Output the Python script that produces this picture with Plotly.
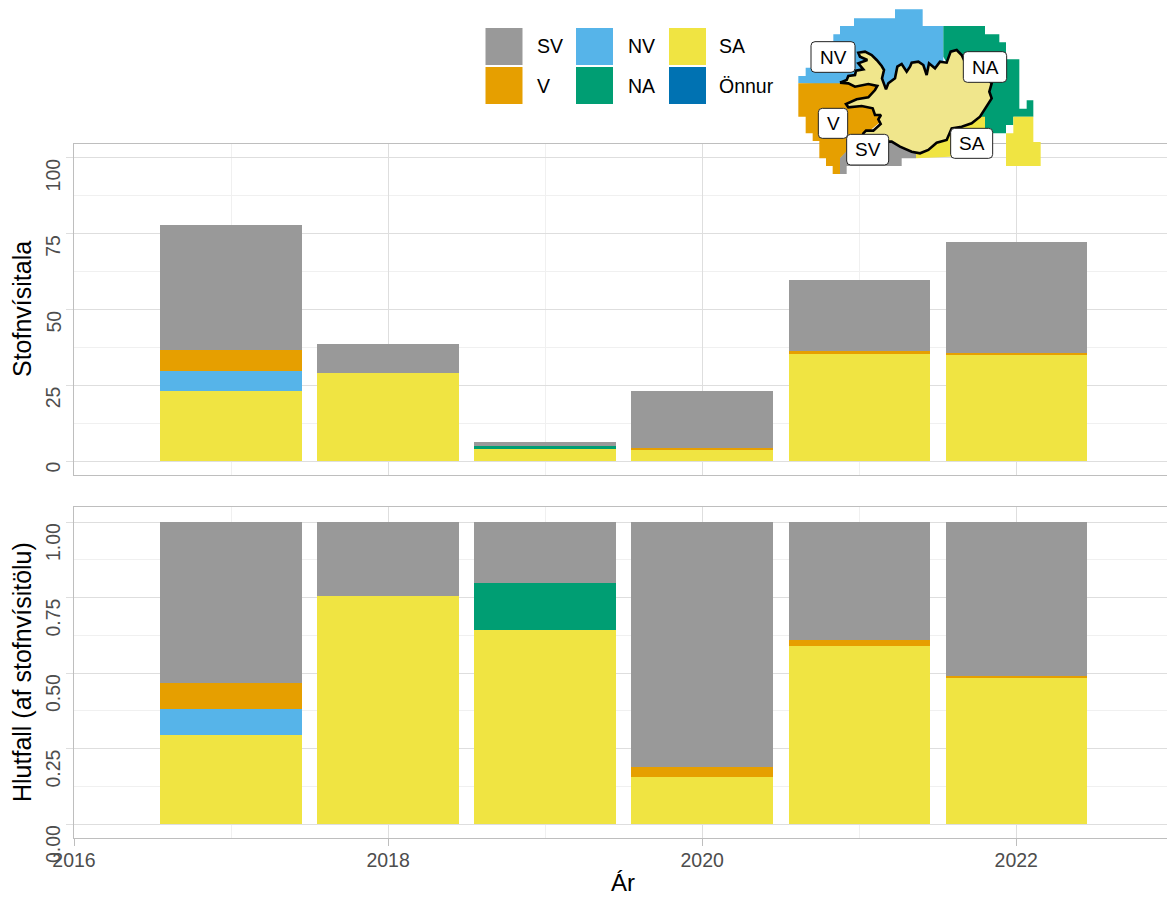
import plotly.graph_objects as go

# ---------- data ----------
years = [2017, 2018, 2019, 2020, 2021, 2022]
index_SA = [23.1, 29.0, 3.9, 3.6, 35.2, 35.3]
index_NA = [0, 0, 1.0, 0, 0, 0]
index_NV = [6.6, 0, 0, 0, 0, 0]
index_V = [6.9, 0, 0, 0.7, 1.2, 0.3]
index_SV = [41.3, 9.6, 1.3, 18.8, 23.3, 36.8]

share_SA = [0.295, 0.755, 0.642, 0.156, 0.589, 0.487]
share_NA = [0, 0, 0.158, 0, 0, 0]
share_NV = [0.086, 0, 0, 0, 0, 0]
share_V = [0.086, 0, 0, 0.033, 0.020, 0.004]
share_SV = [0.533, 0.245, 0.200, 0.811, 0.391, 0.509]

colors = {"SV": "#999999", "V": "#E69F00", "NV": "#56B4E9",
          "NA": "#009E73", "SA": "#F0E442", "Önnur": "#0072B2"}
legend_rows = [["SV", "V"], ["NV", "NA"], ["SA", "Önnur"]]

x_ticks = [2016, 2018, 2020, 2022]
y1_ticks = [0, 25, 50, 75, 100]
y1_labels = ["0", "25", "50", "75", "100"]
y2_ticks = [0, 0.25, 0.5, 0.75, 1.0]
y2_labels = ["0.00", "0.25", "0.50", "0.75", "1.00"]

# map regions, in map units
nv_x = [55, 55, 77, 77, 98, 98, 160, 160, 180, 180, 222, 222, 345, 345, 428, 428, 490, 490, 300, 55]
nv_y = [250, 228, 228, 203, 203, 150, 150, 103, 103, 78, 78, 55, 55, 28, 28, 78, 78, 220, 260, 250]
na_x = [490, 615, 615, 658, 658, 678, 678, 718, 718, 740, 740, 760, 760, 700, 700, 678, 678, 600, 560, 490]
na_y = [78, 78, 103, 103, 127, 127, 178, 178, 326, 326, 301, 301, 350, 350, 375, 375, 400, 400, 300, 170]
v_x = [55, 55, 77, 77, 98, 98, 118, 118, 138, 138, 158, 158, 180, 180, 260, 320, 300, 55]
v_y = [250, 350, 350, 400, 400, 423, 423, 475, 475, 498, 498, 522, 522, 475, 400, 350, 250, 250]
sv_x = [180, 250, 330, 408, 408, 365, 365, 200, 200, 180, 180]
sv_y = [475, 400, 420, 460, 475, 475, 498, 498, 522, 522, 475]
sa_x = [615, 615, 510, 408, 408, 560, 615]
sa_y = [350, 400, 470, 475, 440, 350, 350]
sa2_x = [678, 700, 700, 760, 760, 782, 782, 678, 678]
sa2_y = [400, 400, 350, 350, 426, 426, 498, 498, 400]
iceland_x = [180, 200, 205, 225, 228, 250, 235, 262, 240, 235, 255, 275, 290, 305, 312, 306, 318, 325, 345,
             352, 365, 380, 390, 395, 415, 430, 440, 447, 465, 480, 500, 512, 530, 545, 552, 600, 635, 628,
             635, 620, 600, 575, 545, 515, 500, 470, 445, 420, 395, 360, 335, 325, 280, 245, 250, 258, 280, 302,
             295, 303, 285, 278, 245, 205, 198, 230, 265, 285, 292, 265, 225, 205, 180]
iceland_y = [248, 240, 228, 225, 212, 208, 190, 180, 170, 158, 155, 165, 180, 198, 210, 235, 268, 250, 235,
             200, 192, 215, 200, 188, 185, 195, 225, 190, 205, 185, 188, 155, 150, 165, 180, 215, 250, 275,
             295, 320, 350, 370, 380, 385, 420, 428, 450, 460, 455, 440, 425, 425, 430, 415, 400, 392, 392, 372,
             358, 345, 345, 325, 318, 322, 312, 298, 292, 270, 258, 252, 260, 250, 248]
map_labels = ["NV", "V", "SV", "SA", "NA"]
map_label_x = [159, 159, 263, 575, 615]
map_label_y = [171, 370, 449, 430, 201]
map_label_hw = [66, 44, 63, 63, 65]
map_label_hh = [46, 45, 46, 45, 46]

# ---------- layout ----------
W, H = 1167, 897
GREY = "#4d4d4d"
FONT = "Liberation Sans"
fig = go.Figure()

for name, vals1, vals2 in [("SA", index_SA, share_SA), ("NA", index_NA, share_NA),
                           ("NV", index_NV, share_NV), ("V", index_V, share_V),
                           ("SV", index_SV, share_SV)]:
    fig.add_bar(x=years, y=vals1, name=name, marker=dict(color=colors[name], line_width=0),
                width=0.9, xaxis="x", yaxis="y", showlegend=False)
    fig.add_bar(x=years, y=vals2, name=name, marker=dict(color=colors[name], line_width=0),
                width=0.9, xaxis="x2", yaxis="y2", showlegend=False)

for name, xs, ys in [("NV", nv_x, nv_y), ("NA", na_x, na_y), ("V", v_x, v_y),
                     ("SV", sv_x, sv_y), ("SA", sa_x, sa_y), ("SA", sa2_x, sa2_y)]:
    fig.add_scatter(x=xs, y=ys, mode="lines", fill="toself", fillcolor=colors[name],
                    line=dict(width=0, color=colors[name]), xaxis="x3", yaxis="y3",
                    hoverinfo="skip", showlegend=False)
fig.add_scatter(x=iceland_x, y=iceland_y, mode="lines", fill="toself", fillcolor="#F0E68C",
                line=dict(width=2.6, color="black"), xaxis="x3", yaxis="y3",
                hoverinfo="skip", showlegend=False)


def rounded(cx, cy, hw, hh, r=12):
    l, rt, t, b = cx - hw, cx + hw, cy - hh, cy + hh
    return (f"M{l + r},{t} L{rt - r},{t} Q{rt},{t} {rt},{t + r} L{rt},{b - r} Q{rt},{b} {rt - r},{b} "
            f"L{l + r},{b} Q{l},{b} {l},{b - r} L{l},{t + r} Q{l},{t} {l + r},{t} Z")


shapes = []
annotations = []
for t, cx, cy, hw, hh in zip(map_labels, map_label_x, map_label_y, map_label_hw, map_label_hh):
    shapes.append(dict(type="path", path=rounded(cx, cy, hw, hh), xref="x3", yref="y3",
                       fillcolor="white", line=dict(color="#222222", width=1), layer="above"))
    annotations.append(dict(text=t, x=cx, y=cy, xref="x3", yref="y3", showarrow=False,
                            font=dict(family=FONT, size=19, color="black")))

# legend keys
col_left = [485.5, 576, 669]
col_text = [535, 626, 717]
row_top = [28, 67]
for c, row in enumerate(legend_rows):
    for r, name in enumerate(row):
        shapes.append(dict(type="rect", xref="paper", yref="paper",
                           x0=col_left[c] / W, x1=(col_left[c] + 37) / W,
                           y0=1 - row_top[r] / H, y1=1 - (row_top[r] + 37) / H,
                           fillcolor=colors[name], line_width=0))
        annotations.append(dict(text=name, xref="paper", yref="paper", x=col_text[c] / W,
                                y=1 - (row_top[r] + 18.5) / H, xanchor="left", yanchor="middle",
                                showarrow=False, font=dict(family=FONT, size=19.5, color="black")))

annotations += [
    dict(text="Stofnvísitala", xref="paper", yref="paper", x=22 / W, y=1 - 309 / H, textangle=-90,
         xanchor="center", yanchor="middle", showarrow=False, font=dict(family=FONT, size=25, color="black")),
    dict(text="Hlutfall (af stofnvísitölu)", xref="paper", yref="paper", x=22 / W, y=1 - 672 / H, textangle=-90,
         xanchor="center", yanchor="middle", showarrow=False, font=dict(family=FONT, size=25, color="black")),
    dict(text="Ár", xref="paper", yref="paper", x=623 / W, y=1 - 882 / H,
         xanchor="center", yanchor="middle", showarrow=False, font=dict(family=FONT, size=24, color="black")),
]

# rotated y tick labels hang below their tick, as in the reference
for yref, vals, labels in [("y", y1_ticks, y1_labels), ("y2", y2_ticks, y2_labels)]:
    for v, t in zip(vals, labels):
        annotations.append(dict(text=t, xref="paper", yref=yref, x=53 / W, y=v, textangle=-90,
                                xanchor="center", yanchor="top", showarrow=False, borderpad=0,
                                font=dict(family=FONT, size=19.5, color=GREY)))

common_x = dict(range=[2016, 2022.96], domain=[74 / W, 1], tickvals=x_ticks, showline=True, mirror=True,
                linecolor="#bebebe", linewidth=1.4, gridcolor="#dedede", gridwidth=1.4, zeroline=False,
                automargin=False,
                minor=dict(dtick=1, tick0=2017, showgrid=True, gridcolor="#f0f0f0", gridwidth=1, ticks=""))
common_y = dict(showline=True, mirror=True, linecolor="#bebebe", linewidth=1.4, gridcolor="#dedede", gridwidth=1.4,
                zeroline=False, ticks="outside", ticklen=7, tickcolor="#dedede", tickwidth=1.4,
                automargin=False, showticklabels=False)

fig.update_layout(
    width=W, height=H, margin=dict(l=0, r=0, t=0, b=0), barmode="stack",
    plot_bgcolor="rgba(0,0,0,0)", paper_bgcolor="white", showlegend=False,
    shapes=shapes, annotations=annotations,
    xaxis=dict(**common_x, anchor="y", showticklabels=False),
    yaxis=dict(**common_y, range=[-4.6, 104.6], domain=[1 - 475 / H, 1 - 144 / H], anchor="x",
               tickvals=y1_ticks, minor=dict(tickvals=[12.5, 37.5, 62.5, 87.5], showgrid=True,
                                             gridcolor="#f0f0f0", gridwidth=1, ticks="")),
    xaxis2=dict(**common_x, anchor="y2", ticks="outside", ticklen=7, tickcolor="#bebebe", tickwidth=1.4,
                ticklabelstandoff=-3, tickfont=dict(family=FONT, size=19.5, color=GREY)),
    yaxis2=dict(**common_y, range=[-0.046, 1.05], domain=[1 - 838 / H, 1 - 507 / H], anchor="x2",
                tickvals=y2_ticks,
                minor=dict(tickvals=[0.125, 0.375, 0.625, 0.875], showgrid=True,
                           gridcolor="#f0f0f0", gridwidth=1, ticks="")),
    xaxis3=dict(range=[0, 840], domain=[780 / W, 1060 / W], anchor="y3", visible=False, fixedrange=True,
                automargin=False),
    yaxis3=dict(range=[555, 0], domain=[1 - 185 / H, 1], anchor="x3", visible=False, fixedrange=True,
                automargin=False),
)

fig.write_html("out.html", config={"displayModeBar": False},
               post_script="document.body.style.margin='0';document.body.style.overflow='hidden';")
